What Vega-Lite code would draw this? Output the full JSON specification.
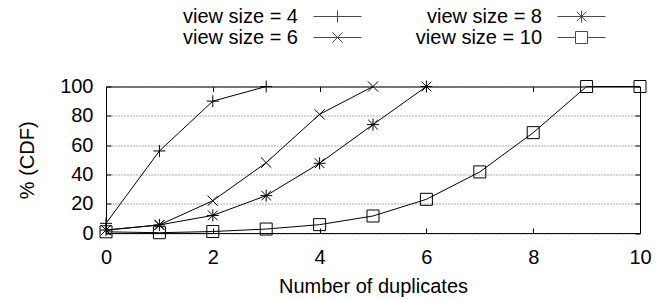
{
  "$schema": "https://vega.github.io/schema/vega-lite/v6.json",
  "width": 534,
  "height": 146.5,
  "autosize": {"type": "none"},
  "padding": {"left": 106, "top": 86.5, "right": 26, "bottom": 66},
  "background": "white",
  "config": {
    "font": "Liberation Sans",
    "view": {"stroke": "black", "strokeWidth": 1},
    "axis": {
      "domain": false,
      "tickSize": -5,
      "tickColor": "black",
      "tickWidth": 1,
      "labelFont": "Liberation Sans",
      "labelFontSize": 20,
      "labelColor": "black",
      "titleFont": "Liberation Sans",
      "titleFontSize": 20,
      "titleFontWeight": "normal",
      "titleColor": "black",
      "grid": false
    }
  },
  "data": {
    "values": [
      {"series": "view size = 4", "x": 0, "y": 6.6},
      {"series": "view size = 4", "x": 1, "y": 56},
      {"series": "view size = 4", "x": 2, "y": 90},
      {"series": "view size = 4", "x": 3, "y": 100},
      {"series": "view size = 6", "x": 0, "y": 2},
      {"series": "view size = 6", "x": 1, "y": 5.5},
      {"series": "view size = 6", "x": 2, "y": 22},
      {"series": "view size = 6", "x": 3, "y": 48},
      {"series": "view size = 6", "x": 4, "y": 81},
      {"series": "view size = 6", "x": 5, "y": 100},
      {"series": "view size = 8", "x": 0, "y": 2},
      {"series": "view size = 8", "x": 1, "y": 5.5},
      {"series": "view size = 8", "x": 2, "y": 12},
      {"series": "view size = 8", "x": 3, "y": 25.5},
      {"series": "view size = 8", "x": 4, "y": 47.6},
      {"series": "view size = 8", "x": 5, "y": 74},
      {"series": "view size = 8", "x": 6, "y": 100},
      {"series": "view size = 10", "x": 0, "y": 0.8},
      {"series": "view size = 10", "x": 1, "y": 0.2},
      {"series": "view size = 10", "x": 2, "y": 1},
      {"series": "view size = 10", "x": 3, "y": 2.7},
      {"series": "view size = 10", "x": 4, "y": 5.7},
      {"series": "view size = 10", "x": 5, "y": 11.6},
      {"series": "view size = 10", "x": 6, "y": 23},
      {"series": "view size = 10", "x": 7, "y": 41.7},
      {"series": "view size = 10", "x": 8, "y": 68.5},
      {"series": "view size = 10", "x": 9, "y": 100},
      {"series": "view size = 10", "x": 10, "y": 100}
    ]
  },
  "resolve": {"axis": {"x": "independent", "y": "independent"}, "scale": {"shape": "independent"}},
  "layer": [
    {
      "mark": {"type": "line", "color": "black", "strokeWidth": 1, "clip": false},
      "encoding": {
        "x": {"field": "x", "type": "quantitative", "scale": {"domain": [0, 10], "nice": false, "zero": false},
              "axis": {"orient": "bottom", "values": [0, 2, 4, 6, 8, 10], "labelPadding": 19, "title": "Number of duplicates", "titlePadding": 9, "labelFlush": false}},
        "y": {"field": "y", "type": "quantitative", "scale": {"domain": [0, 100], "nice": false},
              "axis": {"orient": "left", "values": [0, 20, 40, 60, 80, 100], "labelPadding": 18, "title": "% (CDF)", "titlePadding": 22, "labelFlush": false,
                       "grid": true, "gridColor": "#333", "gridDash": [1, 2], "gridWidth": 1, "gridOpacity": 0.8}},
        "detail": {"field": "series", "type": "nominal"}
      }
    },
    {
      "mark": {"type": "point", "filled": false, "stroke": "black", "strokeWidth": 1, "size": 144, "opacity": 1, "clip": false},
      "encoding": {
        "x": {"field": "x", "type": "quantitative",
              "axis": {"orient": "top", "values": [0, 2, 4, 6, 8, 10], "labels": false, "title": null}},
        "y": {"field": "y", "type": "quantitative",
              "axis": {"orient": "right", "values": [0, 20, 40, 60, 80, 100], "labels": false, "title": null}},
        "shape": {
          "field": "series", "type": "nominal",
          "scale": {
            "domain": ["view size = 4", "view size = 6", "view size = 8", "view size = 10"],
            "range": [
              "M-1,0H1M0,-1V1",
              "M-0.85,-0.85L0.85,0.85M-0.85,0.85L0.85,-0.85",
              "M-1,0H1M0,-1V1M-0.8,-0.8L0.8,0.8M-0.8,0.8L0.8,-0.8",
              "M-1,-1H1V1H-1Z"
            ]
          },
          "legend": null
        }
      }
    },
    {
      "transform": [{"filter": "false"}],
      "mark": {"type": "point", "filled": false, "stroke": "black", "strokeWidth": 1, "size": 144},
      "encoding": {
        "x": {"field": "x", "type": "quantitative", "axis": null},
        "y": {"field": "y", "type": "quantitative", "axis": null},
        "shape": {
          "field": "series", "type": "nominal",
          "scale": {
            "domain": ["view size = 4", "view size = 6", "view size = 8", "view size = 10"],
            "range": [
              "M-4,0H4M0,-1V1",
              "M-4,0H4M-0.85,-0.85L0.85,0.85M-0.85,0.85L0.85,-0.85",
              "M-4,0H4M0,-1V1M-0.8,-0.8L0.8,0.8M-0.8,0.8L0.8,-0.8",
              "M-4,0H-1M1,0H4M-1,-1H1V1H-1Z"
            ]
          },
          "legend": {
            "title": null,
            "orient": "none",
            "legendX": 51.5,
            "legendY": -80,
            "columns": 2,
            "columnPadding": 38,
            "rowPadding": 1,
            "labelFont": "Liberation Sans",
            "labelFontSize": 20,
            "labelColor": "black",
            "labelLimit": 300,
            "labelAlign": "right",
            "labelOffset": -49.5,
            "symbolOffset": 170,
            "symbolSize": 144,
            "symbolStrokeWidth": 1,
            "symbolStrokeColor": "black",
            "symbolFillColor": "transparent"
          }
        }
      }
    }
  ]
}
